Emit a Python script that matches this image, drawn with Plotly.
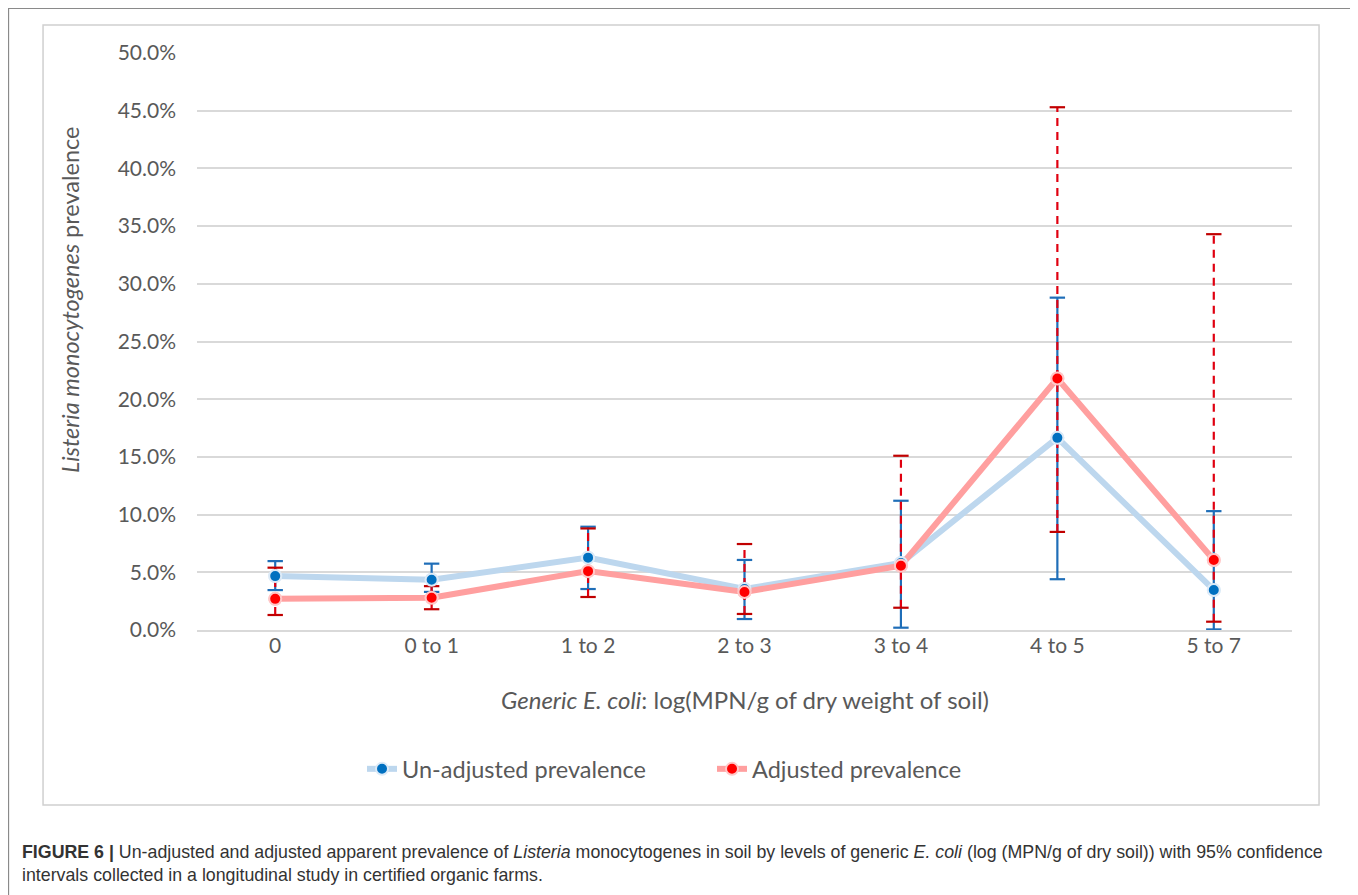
import plotly.graph_objects as go

categories = ["0", "0 to 1", "1 to 2", "2 to 3", "3 to 4", "4 to 5", "5 to 7"]

unadj = [0.0467, 0.0435, 0.0627, 0.0355, 0.0580, 0.1665, 0.0347]
unadj_lo = [0.0346, 0.0330, 0.0355, 0.0095, 0.0020, 0.0440, 0.0005]
unadj_hi = [0.0597, 0.0575, 0.0895, 0.0607, 0.1120, 0.2880, 0.1030]

adj = [0.0270, 0.0280, 0.0510, 0.0330, 0.0557, 0.2180, 0.0607]
adj_lo = [0.0130, 0.0180, 0.0286, 0.0139, 0.0193, 0.0850, 0.0072]
adj_hi = [0.0540, 0.0380, 0.0880, 0.0745, 0.1510, 0.4530, 0.3430]

y_ticks = [i * 0.05 for i in range(11)]

GRAY = "#595959"
BLUE_LINE = "#BDD7EE"
BLUE_PT = "#0070C0"
BLUE_ERR = "#1F6EB8"
RED_LINE = "#FF9F9F"
RED_PT = "#FF0000"
RED_ERR = "#E00010"
RED_CAP = "#C00000"


def seg(xs, lo, hi):
    X, Y = [], []
    for x, a, b in zip(xs, lo, hi):
        X += [x, x, None]
        Y += [a, b, None]
    return X, Y


fig = go.Figure()

# series lines (legend entries)
fig.add_trace(go.Scatter(
    x=categories, y=unadj, mode="lines+markers", name="Un-adjusted prevalence",
    line=dict(color=BLUE_LINE, width=6),
    marker=dict(color=BLUE_PT, size=12, line=dict(color="#DCEAF7", width=2)),
    hoverinfo="skip"))
fig.add_trace(go.Scatter(
    x=categories, y=adj, mode="lines+markers", name="Adjusted prevalence",
    line=dict(color=RED_LINE, width=6),
    marker=dict(color=RED_PT, size=12, line=dict(color="#FFC8C8", width=2)),
    hoverinfo="skip"))

# blue error bars (solid)
bx, by = seg(categories, unadj_lo, unadj_hi)
fig.add_trace(go.Scatter(x=bx, y=by, mode="lines", line=dict(color=BLUE_ERR, width=2.2),
                         showlegend=False, hoverinfo="skip"))
fig.add_trace(go.Scatter(x=categories + categories, y=unadj_lo + unadj_hi, mode="markers",
                         marker=dict(symbol="line-ew", size=11, line=dict(color=BLUE_ERR, width=2.2)),
                         showlegend=False, hoverinfo="skip"))

# red error bars (dashed)
rx, ry = seg(categories, adj_lo, adj_hi)
fig.add_trace(go.Scatter(x=rx, y=ry, mode="lines", line=dict(color=RED_ERR, width=2.2, dash="8px,6px"),
                         showlegend=False, hoverinfo="skip"))
fig.add_trace(go.Scatter(x=categories + categories, y=adj_lo + adj_hi, mode="markers",
                         marker=dict(symbol="line-ew", size=11, line=dict(color=RED_CAP, width=2.2)),
                         showlegend=False, hoverinfo="skip"))

# points on top
fig.add_trace(go.Scatter(x=categories, y=unadj, mode="markers",
                         marker=dict(color=BLUE_PT, size=12, line=dict(color="#DCEAF7", width=2)),
                         showlegend=False, hoverinfo="skip"))
fig.add_trace(go.Scatter(x=categories, y=adj, mode="markers",
                         marker=dict(color=RED_PT, size=12, line=dict(color="#FFC8C8", width=2)),
                         showlegend=False, hoverinfo="skip"))

fig.update_layout(
    width=1350, height=887,
    margin=dict(l=189, r=66, t=45, b=265),
    paper_bgcolor="white", plot_bgcolor="white",
    font=dict(family="Lato", color=GRAY, size=21),
    showlegend=True,
    legend=dict(orientation="h", x=0.1507, xanchor="left", y=-0.241, yanchor="middle",
                font=dict(size=23.5, color=GRAY), tracegroupgap=0, entrywidth=305,
                entrywidthmode="pixels", bgcolor="rgba(0,0,0,0)"),
    xaxis=dict(type="category", range=[-0.5, 6.5], showgrid=False, showline=True,
               linecolor="#D9D9D9", linewidth=1.5, ticks="", tickfont=dict(size=21, color=GRAY),
               ticklabelstandoff=-4, fixedrange=True),
    yaxis=dict(range=[0, 0.5], tickvals=y_ticks, tickformat=".1%", showgrid=True,
               gridcolor="#D9D9D9", gridwidth=1.5, zeroline=False, showline=False,
               ticks="", ticklabelstandoff=20, tickfont=dict(size=21, color=GRAY), fixedrange=True),
)

fig.add_annotation(xref="paper", yref="paper", x=0.5005, y=-0.1213, showarrow=False,
                   text="<i>Generic E. coli</i>: log(MPN/g of dry weight of soil)",
                   font=dict(size=24, color=GRAY), xanchor="center", yanchor="middle")
fig.add_annotation(xref="paper", yref="paper", x=-0.116, y=0.572, showarrow=False,
                   text="<i>Listeria monocytogenes</i> prevalence", textangle=-90,
                   font=dict(size=23.5, color=GRAY), xanchor="center", yanchor="middle")

fig.add_annotation(xref="paper", yref="paper", x=-0.1616, y=-0.4047, showarrow=False,
                   align="left", xanchor="left", yanchor="middle",
                   text="<b>FIGURE 6 |</b> Un-adjusted and adjusted apparent prevalence of <i>Listeria</i> monocytogenes in soil by levels of generic <i>E. coli</i> (log (MPN/g of dry soil)) with 95% confidence<br>intervals collected in a longitudinal study in certified organic farms.",
                   font=dict(family="Liberation Sans", size=17.8, color="#333333"))

# inner chart border
fig.add_shape(type="rect", xref="paper", yref="paper", x0=-0.1406, x1=1.0247, y0=-0.3033, y1=1.0485,
              line=dict(color="#D0D0D0", width=1.5), layer="below")
# outer figure border
fig.add_shape(type="rect", xref="paper", yref="paper", x0=-0.1721, x1=1.0575, y0=-0.473, y1=1.0771,
              line=dict(color="#8A8A8A", width=1.2), layer="below")

fig.write_html("out.html")
